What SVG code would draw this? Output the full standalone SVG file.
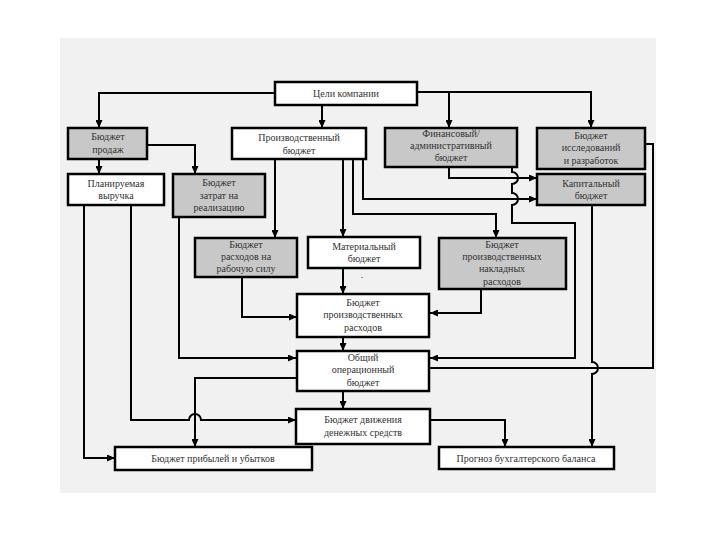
<svg xmlns="http://www.w3.org/2000/svg" width="720" height="540" viewBox="0 0 720 540" font-family="'Liberation Serif', 'DejaVu Serif', serif">
<defs>
<marker id="arr" markerUnits="userSpaceOnUse" markerWidth="8" markerHeight="7" refX="8" refY="3.5" orient="auto">
<path d="M0,0 L8,3.5 L0,7 z" fill="#000"/>
</marker>
<style>
.w{fill:#fff;stroke:#000;stroke-width:2.5}
.g{fill:#c8c8c8;stroke:#000;stroke-width:2.5}
text{font-family:'Liberation Serif','DejaVu Serif',serif;font-size:10px;fill:#333;text-anchor:middle}
#connectors path{fill:none;stroke:#000;stroke-width:2}
.a{marker-end:url(#arr)}
</style>
</defs>
<rect x="0" y="0" width="720" height="540" fill="#fff"/>
<rect x="60" y="38" width="596" height="455" fill="#f1f1f1"/>
<g id="connectors">
<path class="a" d="M276,93 H99 V128"/>
<path class="a" d="M322,105 V128"/>
<path class="a" d="M417,92 H591 V128"/>
<path class="a" d="M449,92 V128"/>
<path class="a" d="M99,159 V174"/>
<path class="a" d="M147,145 H195 V174"/>
<path class="a" d="M84,205 V458 H115"/>
<path class="a" d="M131,205 V420 H189 A6,6 0 0 1 201,420 H296"/>
<path class="a" d="M179,217 V358 H296"/>
<path class="a" d="M275,159 V238"/>
<path class="a" d="M343,159 V237"/>
<path class="a" d="M353,159 V214 H496 V238"/>
<path class="a" d="M363,159 V199 H537"/>
<path class="a" d="M449,167 V178 H537"/>
<path class="a" d="M512,167 V172 A6,6 0 0 1 512,184 V193 A6,6 0 0 1 512,205 V223 H575 V358 H430"/>
<path class="a" d="M242,277 V317 H297"/>
<path class="a" d="M343,268 V294"/>
<path class="a" d="M481,289 V313 H430"/>
<path class="a" d="M343,337 V351"/>
<path class="a" d="M343,391 V409"/>
<path class="a" d="M430,420 H505 V447"/>
<path class="a" d="M296,378 H195 V447"/>
<path d="M430,368 H653 V144 H645"/>
<path class="a" d="M592,205 V362 A6,6 0 0 1 592,374 V447"/>
</g>
<g id="n_goals"><rect class="w" x="275" y="82" width="142" height="23"/><text x="346" y="97">Цели компании</text></g>
<g id="n_sales"><rect class="g" x="68" y="128" width="79" height="31"/><text x="108" y="140">Бюджет</text><text x="108" y="153">продаж</text></g>
<g id="n_prod"><rect class="w" x="232" y="128" width="134" height="31"/><text x="299" y="141">Производственный</text><text x="299" y="154">бюджет</text></g>
<g id="n_fin"><rect class="g" x="385" y="128" width="132" height="39"/><text x="451" y="137">Финансовый/</text><text x="451" y="149">административный</text><text x="451" y="161">бюджет</text></g>
<g id="n_rnd"><rect class="g" x="537" y="128" width="108" height="41"/><text x="591" y="139">Бюджет</text><text x="591" y="151">исследований</text><text x="591" y="164">и разработок</text></g>
<g id="n_rev"><rect class="w" x="68" y="174" width="96" height="31"/><text x="116" y="187">Планируемая</text><text x="116" y="199">выручка</text></g>
<g id="n_sell"><rect class="g" x="173" y="174" width="92" height="43"/><text x="219" y="186">Бюджет</text><text x="219" y="199">затрат на</text><text x="219" y="211">реализацию</text></g>
<g id="n_cap"><rect class="g" x="537" y="174" width="108" height="31"/><text x="591" y="187">Капитальный</text><text x="591" y="199">бюджет</text></g>
<g id="n_labor"><rect class="g" x="195" y="238" width="102" height="39"/><text x="246" y="248">Бюджет</text><text x="246" y="260">расходов на</text><text x="246" y="272">рабочую силу</text></g>
<g id="n_mat"><rect class="w" x="308" y="237" width="112" height="31"/><text x="364" y="250">Материальный</text><text x="364" y="262">бюджет</text><text x="362" y="278">.</text></g>
<g id="n_over"><rect class="g" x="439" y="238" width="127" height="51"/><text x="502" y="248">Бюджет</text><text x="502" y="260">производственных</text><text x="502" y="272">накладных</text><text x="502" y="285">расходов</text></g>
<g id="n_pcost"><rect class="w" x="297" y="294" width="132" height="43"/><text x="363" y="306">Бюджет</text><text x="363" y="318">производственных</text><text x="363" y="331">расходов</text></g>
<g id="n_oper"><rect class="w" x="297" y="351" width="132" height="40"/><text x="363" y="361">Общий</text><text x="363" y="373">операционный</text><text x="363" y="386">бюджет</text></g>
<g id="n_cash"><rect class="w" x="296" y="409" width="134" height="35"/><text x="363" y="423">Бюджет движения</text><text x="363" y="436">денежных  средств</text></g>
<g id="n_pl"><rect class="w" x="115" y="447" width="197" height="23"/><text x="213" y="462">Бюджет  прибылей и  убытков</text></g>
<g id="n_bal"><rect class="w" x="439" y="447" width="175" height="22"/><text x="526" y="462">Прогноз бухгалтерского баланса</text></g>
</svg>
